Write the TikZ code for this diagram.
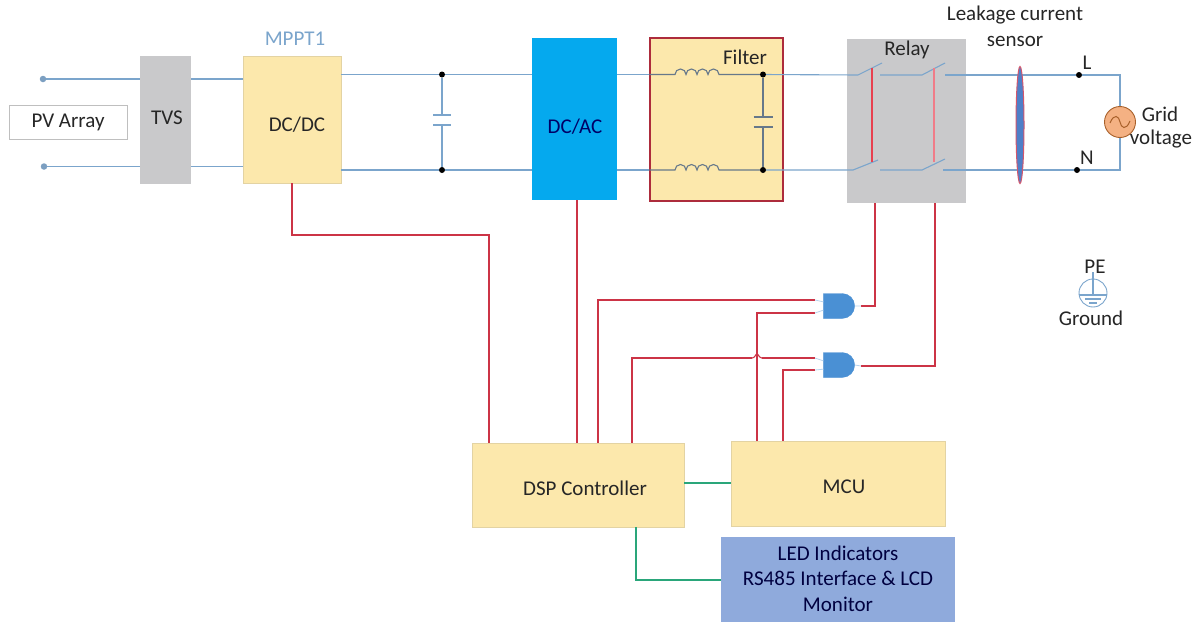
\documentclass[tikz,border=0pt]{standalone}
\usepackage{fontspec}
\setmainfont{Carlito}
\usetikzlibrary{calc,shapes.geometric,shapes.gates.logic.US}
\definecolor{wireblue}{HTML}{7BA5CC}
\definecolor{wiregray}{HTML}{66788A}
\definecolor{sigred}{HTML}{CC3446}
\definecolor{relayred}{HTML}{E8404F}
\definecolor{relaypink}{HTML}{F07C88}
\definecolor{siggreen}{HTML}{2AA67A}
\definecolor{yellowbox}{HTML}{FCE8AC}
\definecolor{graybox}{HTML}{C9C9CB}
\definecolor{cyanbox}{HTML}{05A9EE}
\definecolor{ledbox}{HTML}{8FAADC}
\definecolor{gateblue}{HTML}{4A90D4}
\definecolor{gridfill}{HTML}{F4B183}
\definecolor{gridline}{HTML}{A8602A}
\definecolor{sensorfill}{HTML}{4F7FC8}
\definecolor{sensorline}{HTML}{D4566C}
\definecolor{txt}{HTML}{262626}
\tikzset{
  x=1pt,y=-1pt,
  lbl/.style={font=\fontsize{21}{24}\selectfont,text=txt,inner sep=0pt,align=center},
  boxn/.style={inner sep=0pt,line width=.5pt},
  yellown/.style={boxn,fill=yellowbox,draw=yellowbox!80!gray},
  grayn/.style={boxn,fill=graybox},
  wire/.style={draw=wireblue,line width=1.1pt},
  gwire/.style={draw=wiregray,line width=1.1pt},
  sig/.style={draw=sigred,line width=1.1pt},
  grn/.style={draw=siggreen,line width=1.1pt},
  dotb/.style={circle,fill=black,inner sep=0pt,minimum size=6pt},
  pvdot/.style={circle,fill=wireblue!85!gray,inner sep=0pt,minimum size=6.5pt},
  andg/.style={and gate US,logic gate inputs=nn,fill=gateblue,draw=gateblue,line width=.3pt,inner sep=0pt,minimum width=30pt,minimum height=25pt},
}
\begin{document}
\begin{tikzpicture}
\useasboundingbox[fill=white] (0,0) rectangle (1197,622);
% blocks
\node[boxn,draw=black!25,fill=white,minimum width=118pt,minimum height=34pt] (pv) at (68,122) {};
\node[grayn,minimum width=51pt,minimum height=128pt] (tvs) at (165.5,120) {};
\node[yellown,minimum width=98pt,minimum height=127pt] (dcdc) at (292,119.5) {};
\node[boxn,fill=cyanbox,minimum width=85pt,minimum height=162pt] (dcac) at (574.5,119) {};
\node[boxn,fill=yellowbox,draw=sigred!85!black,line width=1.2pt,minimum width=133pt,minimum height=163pt] (filter) at (716.5,119.5) {};
\node[grayn,minimum width=119pt,minimum height=164pt] (relay) at (906.5,121) {};
\node[yellown,minimum width=212pt,minimum height=84pt] (dsp) at (578,485) {};
\node[yellown,minimum width=214pt,minimum height=85pt] (mcu) at (838,483.5) {};
\node[boxn,fill=ledbox,minimum width=234pt,minimum height=85pt] (led) at (838,579.5) {};
% ports
\coordinate (pvt) at (43,79);
\coordinate (pvb) at (44,166.5);
\node[pvdot] (pvtd) at (pvt) {};
\node[pvdot] (pvbd) at (pvb) {};
\node[dotb] (c1t) at (442,74.5) {};
\node[dotb] (c1b) at (442,170) {};
\node[dotb] (c2t) at (763,74.5) {};
\node[dotb] (c2b) at (763,170) {};
\node[dotb] (ldot) at (1079,75) {};
\node[dotb] (ndot) at (1077,170) {};
\node[circle,fill=gridfill,draw=gridline,line width=.9pt,inner sep=0pt,minimum size=31pt] (grid) at (1120,122) {};
\coordinate (gt) at (1120,75);
\coordinate (gb) at (1120,170);
% PV side wires
\draw[wire] (pvtd) -- (tvs.west |- pvt);
\draw[wire] (pvbd) -- (tvs.west |- pvb);
\draw[wire] (tvs.east |- pvt) -- (dcdc.west |- pvt);
\draw[wire] (tvs.east |- pvb) -- (dcdc.west |- pvb);
\draw[wire] (dcdc.east |- c1t) -- (c1t) -- (dcac.west |- c1t);
\draw[wire] (dcdc.east |- c1b) -- (c1b) -- (dcac.west |- c1b);
% capacitor 1
\coordinate (c1p) at (442,115);
\coordinate (c1q) at (442,125);
\draw[wire] (c1t) -- (c1p) (c1q) -- (c1b);
\draw[wire] ($(c1p)+(-9,0)$) -- ($(c1p)+(9,0)$) ($(c1q)+(-9,0)$) -- ($(c1q)+(9,0)$);
% filter
\draw[wire] (dcac.east |- c2t) -- (filter.west |- c2t);
\draw[wire] (dcac.east |- c2b) -- (filter.west |- c2b);
\coordinate (l1a) at (675,74.5);
\coordinate (l2a) at (675,170);
\draw[gwire] (filter.west |- l1a) -- (l1a) arc[start angle=180,end angle=0,x radius=5.5,y radius=-5.5] arc[start angle=180,end angle=0,x radius=5.5,y radius=-5.5] arc[start angle=180,end angle=0,x radius=5.5,y radius=-5.5] arc[start angle=180,end angle=0,x radius=5.5,y radius=-5.5] -- (c2t);
\draw[gwire] (filter.west |- l2a) -- (l2a) arc[start angle=180,end angle=0,x radius=5.5,y radius=-5.5] arc[start angle=180,end angle=0,x radius=5.5,y radius=-5.5] arc[start angle=180,end angle=0,x radius=5.5,y radius=-5.5] arc[start angle=180,end angle=0,x radius=5.5,y radius=-5.5] -- (c2b);
\coordinate (c2p) at (763,117);
\coordinate (c2q) at (763,127);
\draw[gwire] (c2t) -- (c2p) (c2q) -- (c2b);
\draw[gwire] ($(c2p)+(-9.5,0)$) -- ($(c2p)+(9.5,0)$) ($(c2q)+(-9.5,0)$) -- ($(c2q)+(9.5,0)$);
% relay contacts
\coordinate (s1a) at (858,75); \coordinate (s1b) at (882,63);
\coordinate (s1c) at (880,75); \coordinate (s2a) at (922,75);
\coordinate (s2b) at (945,63); \coordinate (s2c) at (945,75);
\coordinate (s3a) at (853,170); \coordinate (s3b) at (878,160);
\coordinate (s3c) at (880,170); \coordinate (s4a) at (922,170);
\coordinate (s4b) at (945,159); \coordinate (s4c) at (943,170);
\draw[wire] (c2t) -- (s1a) -- (s1b);
\draw[wire] (s1c) -- (s2a) -- (s2b);
\draw[wire] (s2c) -- (ldot);
\draw[wire] (c2b) -- (s3a) -- (s3b);
\draw[wire] (s3c) -- (s4a) -- (s4b);
\draw[wire] (s4c) -- (ndot);
\draw[wire] (ldot) -- (gt) -- (grid.north);
\draw[wire] (ndot) -- (gb) -- (grid.south);
\draw[relayred,line width=1.3pt] (872,68) -- (872,162);
\draw[relaypink,line width=1.3pt] (934,68) -- (934,162);
% sensor
\node[ellipse,fill=sensorfill,draw=sensorline,line width=1pt,inner sep=0pt,minimum width=8pt,minimum height=117pt] (sensor) at (1020,125) {};
% grid sine
\draw[gridline,line width=1pt] ($(grid)+(-10,1)$) .. controls ($(grid)+(-6,-9)$) and ($(grid)+(-1,-6)$) .. (grid.center) .. controls ($(grid)+(1,6)$) and ($(grid)+(6,9)$) .. ($(grid)+(10,-1)$);
% gates
\node[andg] (g1) at (838,306) {};
\node[andg] (g2) at (838,365) {};
% signals
\draw[sig] (dcdc.south) |- (489,235) -- (dsp.north -| 489,0);
\draw[sig] (dcac.south -| 577,0) -- (dsp.north -| 577,0);
\draw[sig] (dsp.north -| 598,0) |- (815,300);
\draw[sig] (mcu.north -| 757,0) |- (815,313);
\draw[sig] (dsp.north -| 632,0) |- (752,358);
\draw[sig] (752,358) .. controls (755,358) and (755.5,354) .. (757,354) .. controls (758.5,354) and (759,358) .. (762,358);
\draw[sig] (762,358) -- (815,358);
\draw[sig] (mcu.north -| 783,0) |- (815,370);
\draw[sig] (861,306) -| (relay.south -| 875,0);
\draw[sig] (861,366) -| (relay.south -| 935,0);
\draw[gateblue!40,line width=.8pt] (815,300) -- (g1.input 1) (815,313) -- (g1.input 2) (815,358) -- (g2.input 1) (815,370) -- (g2.input 2) (g1.output) -- (861,306) (g2.output) -- (861,366);
\draw[grn] (dsp.east |- 0,483) -- (mcu.west |- 0,483);
\draw[grn] (dsp.south -| 636,0) |- (led.west |- 0,580);
% ground symbol
\node[circle,draw=wireblue,line width=.9pt,inner sep=0pt,minimum size=28pt] (pe) at (1093,293) {};
\draw[wire] (1093,272) -- (1093,295);
\draw[wire] (pe.west |- 0,295) -- (pe.east |- 0,295);
\draw[wire] (1085,299) -- (1101,299);
\draw[wire] (1089,303) -- (1097,303);
% labels
\node[lbl] (tpv) at (68,122) {PV Array};
\node[lbl] (ttvs) at (167,118) {TVS};
\node[lbl] (tdcdc) at (297,125) {DC/DC};
\node[lbl,text=wireblue] (tmppt) at (295,39) {MPPT1};
\node[lbl,text=blue!40!black] (tdcac) at (575,127) {DC/AC};
\node[lbl] (tfilter) at (745,57) {Filter};
\node[lbl] (trelay) at (907,50) {Relay};
\node[lbl] (tleak) at (1015,15.5) {Leakage current};
\node[lbl] (tsens) at (1015,41) {sensor};
\node[lbl] (tl) at (1087,63) {L};
\node[lbl] (tn) at (1087,158) {N};
\node[lbl] (tgrid) at (1160,114) {Grid};
\node[lbl] (tvolt) at (1161,139) {voltage};
\node[lbl] (tpe) at (1095,267) {PE};
\node[lbl] (tgnd) at (1091,318) {Ground};
\node[lbl] (tdsp) at (585,488) {DSP Controller};
\node[lbl] (tmcu) at (844,487) {MCU};
\node[lbl,text=blue!25!black] (tled1) at (838,553) {LED Indicators};
\node[lbl,text=blue!25!black] (tled2) at (838,578) {RS485 Interface \& LCD};
\node[lbl,text=blue!25!black] (tled3) at (838,604) {Monitor};
\end{tikzpicture}
\end{document}
